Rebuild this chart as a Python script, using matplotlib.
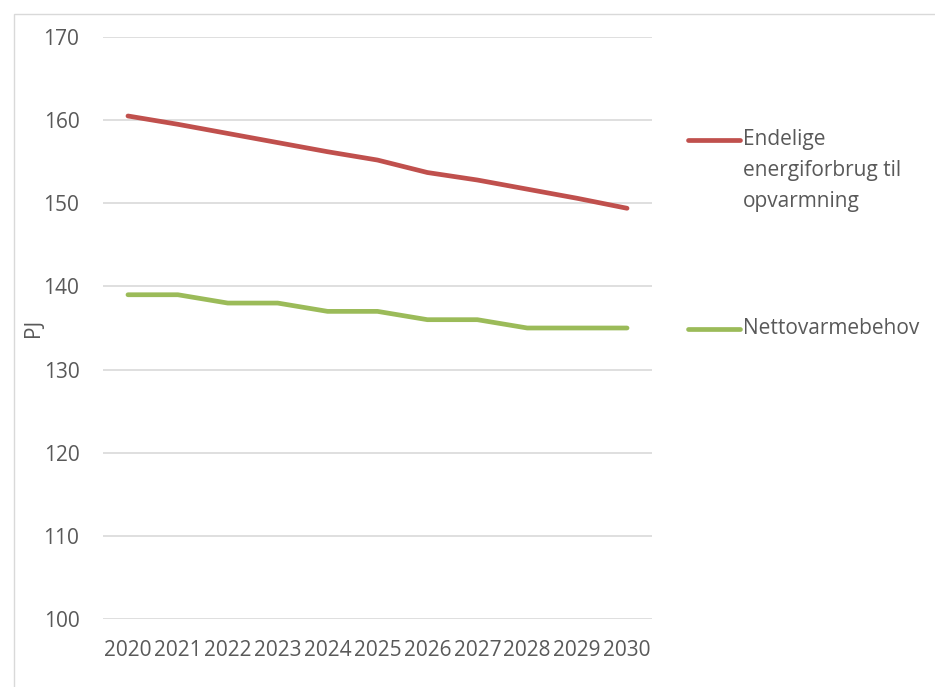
import matplotlib.pyplot as plt
from matplotlib.lines import Line2D
from matplotlib.patches import Rectangle

years = ["2020", "2021", "2022", "2023", "2024", "2025",
         "2026", "2027", "2028", "2029", "2030"]
endelige = [160.5, 159.5, 158.4, 157.3, 156.2, 155.2,
            153.7, 152.8, 151.7, 150.6, 149.4]
netto = [139, 139, 138, 138, 137, 137, 136, 136, 135, 135, 135]

red = "#c0504d"
green = "#9bbb59"
grey = "#595959"
fs = 15

plt.rcParams["font.family"] = ["Open Sans", "DejaVu Sans"]

fig = plt.figure(figsize=(9.35, 6.87), dpi=100)
ax = fig.add_axes([103 / 935, 1 - 619 / 687, 549 / 935, 582 / 687])

x = range(len(years))
ax.plot(x, endelige, color=red, lw=3.4, solid_capstyle="round")
ax.plot(x, netto, color=green, lw=3.4, solid_capstyle="round")

ax.set_xlim(-0.5, len(years) - 0.5)
ax.set_ylim(100, 170)
ax.set_yticks(range(100, 171, 10))
ax.set_xticks(list(x))
ax.set_xticklabels(years)
ax.tick_params(length=0, labelsize=fs, colors=grey)
ax.tick_params(axis="y", pad=17)
ax.tick_params(axis="x", pad=15)
ax.grid(axis="y", color="#d9d9d9", lw=1.2)
ax.set_axisbelow(True)
for s in ax.spines.values():
    s.set_visible(False)
ax.set_ylabel("PJ", fontsize=fs, color=grey)
ax.yaxis.set_label_coords(-0.108, 0.5)

# legend drawn by hand to the right of the plot
def legend_entry(y, color, lines):
    fig.add_artist(Line2D([688 / 935, 740 / 935], [1 - y / 687] * 2,
                          color=color, lw=3.4, solid_capstyle="round"))
    for i, t in enumerate(lines):
        fig.text(743 / 935, 1 - (y + i * 30.5) / 687, t, fontsize=fs,
                 color=grey, va="center", ha="left")

legend_entry(140, red, ["Endelige", "energiforbrug til", "opvarmning"])
legend_entry(329, green, ["Nettovarmebehov"])

# chart frame
fig.add_artist(Rectangle((14 / 935, -0.1), 1.2, 1 - 14 / 687 + 0.1,
                         transform=fig.transFigure, fill=False,
                         edgecolor="#d9d9d9", lw=1))

fig.savefig("out.png", dpi=100)
